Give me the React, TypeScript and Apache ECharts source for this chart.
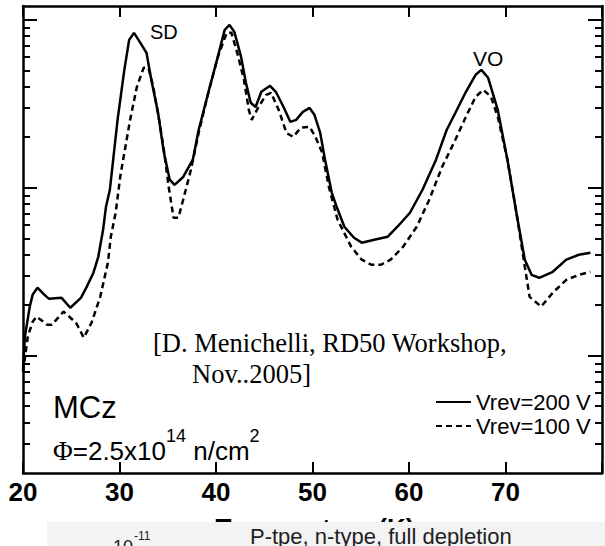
import React, { useEffect, useRef } from "react";
import * as echarts from "echarts";

// Temperature (K) and TSC current (arbitrary log units)
const tempVrev200 = [20.0,20.2,20.7,21.0,21.5,22.2,22.7,24.0,24.9,26.0,26.6,27.3,27.8,28.3,28.6,29.0,29.4,29.8,30.5,31.0,31.5,32.1,32.8,33.3,34.0,34.6,35.2,35.7,36.6,37.6,38.2,39.2,40.1,40.9,41.4,41.9,42.6,43.1,43.6,44.1,44.7,45.6,46.2,47.0,47.7,48.3,49.0,49.7,50.2,50.8,51.3,52.0,52.5,53.3,54.3,55.1,56.4,57.8,58.8,60.1,61.4,62.8,63.9,64.8,65.9,66.9,67.5,68.2,69.2,70.2,71.2,72.0,72.7,73.5,74.9,76.3,77.6,78.8];
const currentVrev200 = [0.825,1.30,1.96,2.31,2.54,2.31,2.18,2.21,1.93,2.21,2.57,3.12,3.88,5.62,7.71,9.73,15.7,25.4,50.4,76.0,83.7,74.0,63.6,43.9,27.9,16.2,11.2,10.4,11.6,14.7,22.1,36.8,57.8,87.2,93.4,84.8,60.2,42.2,32.1,30.3,37.3,40.5,37.3,30.3,24.7,25.4,28.3,29.9,27.2,21.2,14.7,9.33,7.71,5.86,5.04,4.71,4.90,5.11,5.86,7.10,9.73,14.7,22.1,27.9,37.3,47.1,50.4,45.2,29.1,14.7,6.72,3.73,3.03,2.91,3.16,3.73,3.99,4.10];

const tempVrev100 = [20.0,20.5,21.0,21.4,22.5,23.0,24.2,25.5,26.3,27.1,28.0,28.8,29.1,29.6,30.1,31.1,31.8,32.5,33.0,33.5,34.1,34.6,35.1,35.6,36.1,36.6,37.4,38.2,39.2,40.2,41.1,41.6,42.2,42.9,43.4,43.7,44.4,45.2,45.7,46.5,47.3,48.0,48.8,49.7,50.3,51.0,51.7,52.6,54.0,55.1,56.1,57.1,58.1,59.4,60.8,62.1,63.4,64.8,65.9,66.9,67.7,68.5,69.2,70.2,71.2,72.0,72.5,73.7,74.9,76.3,77.6,78.8];
const currentVrev100 = [0.80,1.30,1.59,1.71,1.53,1.53,1.83,1.57,1.28,1.57,2.24,3.58,5.11,7.10,11.9,25.4,39.9,51.8,51.8,39.9,25.4,16.8,10.1,6.63,6.63,8.49,12.8,21.2,36.8,60.2,83.7,83.7,63.6,43.9,29.1,25.4,30.3,35.8,36.8,29.1,21.2,20.1,22.8,23.1,20.1,16.2,10.1,6.45,4.46,3.73,3.48,3.48,3.73,4.46,5.86,8.49,13.2,19.3,26.5,34.8,38.3,34.8,26.5,14.7,6.72,3.39,2.24,1.96,2.37,2.83,3.03,3.16];

const seriesNames = ["Vrev=200 V", "Vrev=100 V"];
const xTickValues = [20, 30, 40, 50, 60, 70];
const yMajorTicks = [1, 10, 100];
const yMinorTicks = [0.3,0.4,0.5,0.6,0.7,0.8,0.9,2,3,4,5,6,7,8,9,20,30,40,50,60,70,80,90];

const SANS = "'Liberation Sans', Arial, Helvetica, sans-serif";
const SERIF = "'Liberation Serif', 'Times New Roman', serif";

const zip = (xs: number[], ys: number[]) => xs.map((x, i) => [x, ys[i]]);

export default function App() {
  const ref = useRef<HTMLDivElement>(null);
  useEffect(() => {
    document.body.style.margin = "0";
    document.body.style.overflow = "hidden";
    if (!ref.current) return;
    const chart = echarts.init(ref.current, undefined, { renderer: "svg" });
    const yBase = {
      type: "log" as const,
      logBase: 10,
      min: 0.2,
      max: 121,
      axisLabel: { show: false },
      splitLine: { show: false },
      minorTick: { show: false },
    };
    const axisLineStyle = { color: "#000", width: 2.5 };
    const tickStyle = { color: "#000", width: 2 };
    const mid = { textVerticalAlign: "middle", verticalAlign: "middle" };
    chart.setOption({
      animation: false,
      backgroundColor: "#fff",
      grid: { left: 23, top: 6, width: 594, height: 467, containLabel: false },
      xAxis: [
        {
          type: "value",
          min: 20,
          max: 80,
          interval: 10,
          position: "bottom",
          axisLine: { lineStyle: axisLineStyle },
          axisTick: { inside: true, length: 11, lineStyle: tickStyle },
          axisLabel: {
            color: "#000",
            fontSize: 26,
            fontWeight: "bold",
            fontFamily: SANS,
            margin: 6,
            formatter: (v: number) => (xTickValues.includes(v) ? String(v) : ""),
          },
          splitLine: { show: false },
        },
        {
          type: "value",
          min: 20,
          max: 80,
          interval: 10,
          position: "top",
          axisLine: { lineStyle: axisLineStyle },
          axisTick: { inside: true, length: 11, lineStyle: tickStyle },
          axisLabel: { show: false },
          splitLine: { show: false },
        },
      ],
      yAxis: [
        {
          ...yBase,
          position: "left",
          axisLine: { show: true, lineStyle: axisLineStyle },
          axisTick: { show: true, inside: true, length: 14, lineStyle: tickStyle, customValues: yMajorTicks },
        },
        {
          ...yBase,
          position: "left",
          axisLine: { show: false },
          axisTick: { show: true, inside: true, length: 7, lineStyle: tickStyle, customValues: yMinorTicks },
        },
        {
          ...yBase,
          position: "right",
          axisLine: { show: true, lineStyle: axisLineStyle },
          axisTick: { show: true, inside: true, length: 14, lineStyle: tickStyle, customValues: yMajorTicks },
        },
        {
          ...yBase,
          position: "right",
          axisLine: { show: false },
          axisTick: { show: true, inside: true, length: 7, lineStyle: tickStyle, customValues: yMinorTicks },
        },
      ],
      legend: {
        orient: "vertical",
        left: 430,
        top: 386,
        itemWidth: 35,
        itemHeight: 14,
        itemGap: 2,
        itemStyle: { opacity: 0, color: "rgba(0,0,0,0)", borderWidth: 0 },
        lineStyle: { width: 2 },
        textStyle: { color: "#000", fontSize: 22, fontFamily: SANS },
        data: seriesNames,
      },
      series: [
        {
          name: seriesNames[0],
          type: "line",
          symbol: "none",
          data: zip(tempVrev200, currentVrev200),
          lineStyle: { color: "#000", width: 2.5, type: "solid" },
          itemStyle: { color: "#000" },
          z: 3,
        },
        {
          name: seriesNames[1],
          type: "line",
          symbol: "none",
          data: zip(tempVrev100, currentVrev100),
          lineStyle: { color: "#000", width: 2.5, type: [6, 4] },
          itemStyle: { color: "#000" },
          z: 2,
        },
      ],
      graphic: [
        { type: "text", x: 150, y: 32, style: { text: "SD", fontSize: 20, fontFamily: SANS, fill: "#000", ...mid } },
        { type: "text", x: 473, y: 58, style: { text: "VO", fontSize: 21, fontFamily: SANS, fill: "#000", ...mid } },
        { type: "text", x: 153, y: 343, style: { text: "[D. Menichelli, RD50 Workshop,", fontSize: 26.5, fontFamily: SERIF, fill: "#000", ...mid } },
        { type: "text", x: 192, y: 374, style: { text: "Nov..2005]", fontSize: 26.5, fontFamily: SERIF, fill: "#000", ...mid } },
        { type: "text", x: 53, y: 407, style: { text: "MCz", fontSize: 31, fontFamily: SANS, fill: "#000", ...mid } },
        {
          type: "text",
          x: 53,
          y: 427,
          style: {
            text: "{p|Φ}{m|=2.5x10}{s|14}{m| n/cm}{s|2}",
            fill: "#000",
            textVerticalAlign: "top",
            verticalAlign: "top",
            rich: {
              p: { fontFamily: SERIF, fontSize: 27, lineHeight: 48, fill: "#000" },
              m: { fontFamily: SANS, fontSize: 26, lineHeight: 48, fill: "#000" },
              s: { fontFamily: SANS, fontSize: 18, lineHeight: 18, verticalAlign: "top", fill: "#000" },
            },
          },
        },
        { type: "text", x: 315, y: 528, style: { text: "Temperature (K)", fontSize: 26, fontWeight: "bold", fontFamily: SANS, fill: "#000", textAlign: "center", align: "center", ...mid } },
        { type: "rect", shape: { x: 47, y: 522, width: 560, height: 26 }, style: { fill: "#f3f3f3" }, z: 50 },
        { type: "text", x: 113, y: 547, z: 51, style: { text: "10", fontSize: 18, fontFamily: SANS, fill: "#222", ...mid } },
        { type: "text", x: 134, y: 536, z: 51, style: { text: "-11", fontSize: 12, fontFamily: SANS, fill: "#222", ...mid } },
        { type: "text", x: 250, y: 536, z: 51, style: { text: "P-tpe, n-type, full depletion", fontSize: 22, fontFamily: SANS, fill: "#222", ...mid } },
      ],
    });
    return () => chart.dispose();
  }, []);
  return <div ref={ref} style={{ width: 605, height: 546 }} />;
}
